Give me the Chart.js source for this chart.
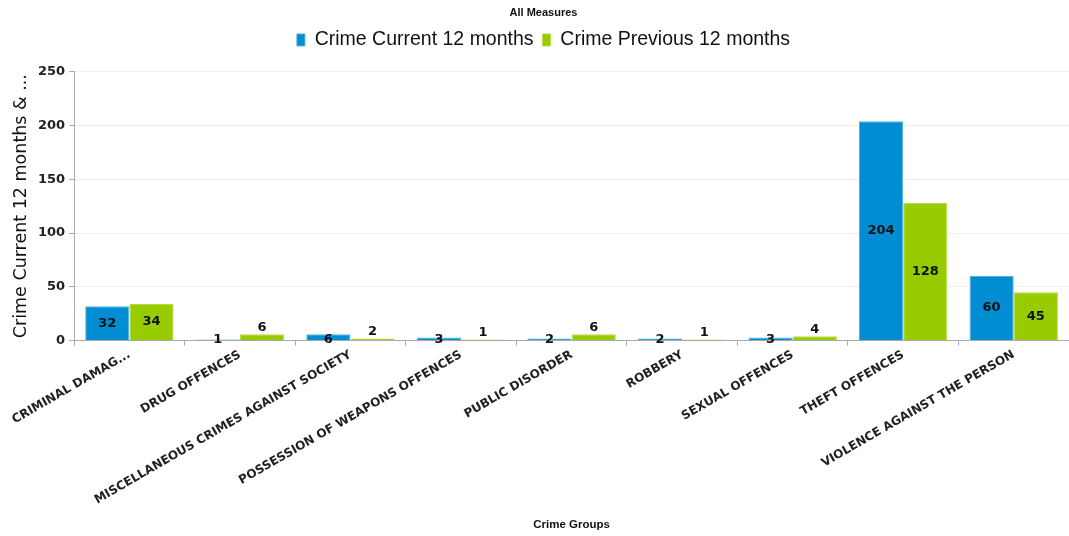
<!DOCTYPE html>
<html>
<head>
<meta charset="utf-8">
<script src="https://cdn.jsdelivr.net/npm/chart.js@4"></script>
<style>
  html, body { margin: 0; padding: 0; background: #fff; }
  #wrap { width: 1069px; height: 536px; }
</style>
</head>
<body>
<div id="wrap"><canvas id="chart"></canvas></div>
<script>
const categories = [
  'CRIMINAL DAMAG...',
  'DRUG OFFENCES',
  'MISCELLANEOUS CRIMES AGAINST SOCIETY',
  'POSSESSION OF WEAPONS OFFENCES',
  'PUBLIC DISORDER',
  'ROBBERY',
  'SEXUAL OFFENCES',
  'THEFT OFFENCES',
  'VIOLENCE AGAINST THE PERSON'
];
const currentValues = [32, 1, 6, 3, 2, 2, 3, 204, 60];
const previousValues = [34, 6, 2, 1, 6, 1, 4, 128, 45];
const yTicks = [0, 50, 100, 150, 200, 250];

// value labels: inside the bar when tall, otherwise near the base / above
const barLabels = {
  id: 'barLabels',
  afterDatasetsDraw(chart) {
    const ctx = chart.ctx;
    ctx.save();
    ctx.font = 'bold 13px "DejaVu Sans"';
    ctx.fillStyle = '#111';
    ctx.textAlign = 'center';
    ctx.textBaseline = 'middle';
    chart.data.datasets.forEach((ds, di) => {
      const meta = chart.getDatasetMeta(di);
      meta.data.forEach((bar, i) => {
        const h = bar.base - bar.y;
        let y;
        if (h > 20) y = bar.y + h / 2;
        else if (di === 0) y = bar.base;
        else y = bar.y - 7;
        ctx.fillText(String(ds.data[i]), bar.x, y);
      });
    });
    ctx.restore();
  }
};

// more room under the legend, and title + legend sit a little right of centre
const legendGap = {
  id: 'legendGap',
  beforeInit(chart) {
    const fit = chart.legend.fit;
    chart.legend.fit = function () {
      fit.bind(chart.legend)();
      this.height += 12;
    };
  },
  afterLayout(chart) {
    for (const box of [chart.legend, chart.titleBlock]) {
      if (!box) continue;
      box.left += 7;
      box.right += 7;
    }
  }
};

new Chart(document.getElementById('chart'), {
  type: 'bar',
  data: {
    labels: categories,
    datasets: [
      { label: 'Crime Current 12 months', data: currentValues,
        backgroundColor: '#008dd2', borderColor: '#4fb3e6', borderWidth: 1 },
      { label: 'Crime Previous 12 months', data: previousValues,
        backgroundColor: '#99cc00', borderColor: '#b5dc44', borderWidth: 1 }
    ]
  },
  plugins: [barLabels, legendGap],
  options: {
    responsive: true,
    maintainAspectRatio: false,
    animation: false,
    layout: { padding: { left: 4, right: 0, top: 2, bottom: 4 } },
    plugins: {
      title: {
        display: true, text: 'All Measures', color: '#111',
        font: { family: '"Liberation Sans Narrow", "Liberation Sans"', size: 11, weight: 'bold' },
        padding: { top: 4, bottom: 2 }
      },
      legend: {
        display: true,
        labels: {
          color: '#111', boxWidth: 8, boxHeight: 12, padding: 9,
          font: { family: '"Liberation Sans Narrow", "Liberation Sans"', size: 19.5 }
        }
      },
      tooltip: { enabled: false }
    },
    datasets: { bar: { categoryPercentage: 0.8, barPercentage: 1.0 } },
    scales: {
      x: {
        grid: { display: true, drawOnChartArea: false, offset: true, tickLength: 5, color: '#aaa' },
        border: { color: '#aaa' },
        ticks: {
          color: '#222', autoSkip: false, minRotation: 30, maxRotation: 30, padding: 2,
          font: { family: '"DejaVu Sans"', size: 12, weight: 'bold' }
        },
        title: {
          display: true, text: 'Crime Groups', color: '#111',
          font: { family: '"Liberation Sans"', size: 11.5, weight: 'bold' },
          padding: { top: 9, bottom: 0 }
        }
      },
      y: {
        min: 0, max: 250,
        afterBuildTicks(axis) { axis.ticks = yTicks.map(v => ({ value: v })); },
        grid: { color: '#eeeeee', tickLength: 5, tickColor: '#aaa' },
        border: { color: '#aaa' },
        ticks: {
          color: '#222', padding: 4,
          font: { family: '"DejaVu Sans"', size: 13, weight: 'bold' }
        },
        title: {
          display: true, text: 'Crime Current 12 months & ...', color: '#111',
          font: { family: '"DejaVu Sans"', size: 17.5 },
          padding: { top: 7, bottom: 2 }
        }
      }
    }
  }
});
</script>
</body>
</html>
